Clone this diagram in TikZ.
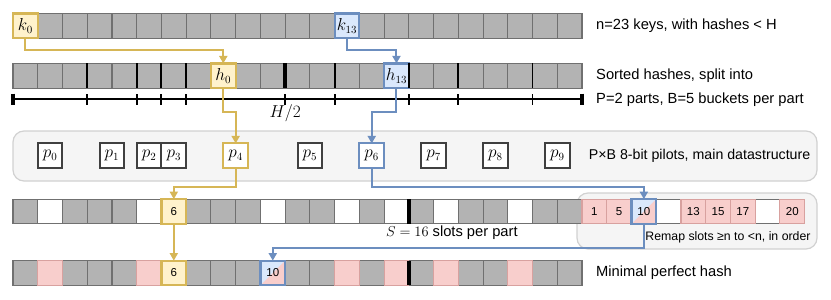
\documentclass[tikz,border=0pt]{standalone}
\usepackage{fontspec}
\setsansfont{Liberation Sans}
\usetikzlibrary{positioning,arrows.meta}

\definecolor{yelline}{HTML}{D6B656}
\definecolor{yelfill}{HTML}{FFF2CC}
\definecolor{bluline}{HTML}{6C8EBF}
\definecolor{blufill}{HTML}{DAE8FC}
\definecolor{redline}{HTML}{B85450}
\definecolor{redfill}{HTML}{F8CECC}
\definecolor{cellgray}{HTML}{B3B3B3}
\definecolor{cellline}{HTML}{707070}

\tikzset{
  cell/.style={draw=cellline, line width=1.1pt, minimum size=24.74pt,
    inner sep=0pt, outer sep=0pt, font=\sffamily\fontsize{11.5}{12}\selectfont},
  gcell/.style={cell, fill=cellgray},
  wcell/.style={cell, fill=white},
  rcell/.style={cell, fill=redfill, draw=redline!55},
  ycell/.style={cell, fill=yelfill, draw=yelline, line width=2.2pt},
  bcell/.style={cell, fill=blufill, draw=bluline, line width=2.2pt},
  scell/.style={bcell, path picture={
      \fill[redfill] (path picture bounding box.north east)
        -- (path picture bounding box.south east)
        -- (path picture bounding box.south west) -- cycle;}},
  mathtext/.style={font=\fontsize{16}{18}\selectfont},
  pilot/.style={draw=black!75, line width=2pt, fill=white,
    minimum size=24.74pt, inner sep=0pt, outer sep=0pt, mathtext},
  panel/.style={draw=black!18, line width=1.2pt, fill=black!4, rounded corners=11pt},
  sep/.style={line width=1.9pt},
  partsep/.style={line width=4.2pt},
  ylink/.style={draw=yelline, line width=2pt, -{Triangle[length=7.5pt,width=8pt]}},
  blink/.style={draw=bluline, line width=2pt, -{Triangle[length=7.5pt,width=8pt]}},
  lbl/.style={font=\sffamily\fontsize{14.7}{17}\selectfont, inner sep=0pt},
}

\begin{document}
\begin{tikzpicture}[x=1pt, y=-1pt]
  \useasboundingbox (0,0) rectangle (831,300);
  \def\cw{24.74}
  \def\yk{25.8} \def\yh{75.8} \def\yp{155.8} \def\ys{211.5} \def\ym{273}

  % Background panels for the pilots and for the remapped slots.
  \draw[panel] (13,131) rectangle (817,181);
  \draw[panel] (577,193) rectangle (817,249);

  % Keys, sorted hashes and the final positions (n=23 each).
  \foreach \i in {0,...,22} {
    \node[gcell] (k\i) at ({13+(\i+0.5)*\cw},\yk) {};
    \node[gcell] (h\i) at ({13+(\i+0.5)*\cw},\yh) {};
    \node[gcell] (m\i) at ({13+(\i+0.5)*\cw},\ym) {};
  }
  % Slots, 2 parts of S=16.
  \foreach \i in {0,...,31}
    \node[gcell] (s\i) at ({13+(\i+0.5)*\cw},\ys) {};

  % Empty slots, and the slots >= n that get remapped.
  \foreach \i in {1,5,10,13,15,17,20,26,30}
    \node[wcell] (s\i) at (s\i) {};
  \foreach \i/\v in {23/1,24/5,27/13,28/15,29/17,31/20}
    \node[rcell] (s\i) at (s\i) {\v};
  \foreach \i in {1,5,13,15,17,20}
    \node[rcell] (m\i) at (m\i) {};

  % Pilots, one per bucket.
  \foreach \j/\c in {0/1.5,1/4,2/5.5,3/6.5,4/9,5/12,6/14.5,7/17,8/19.5,9/22}
    \node[pilot] (p\j) at ({13+\c*\cw},\yp) {$p_{\j}$};
  \node[pilot, draw=yelline] (p4) at (p4) {$p_4$};
  \node[pilot, draw=bluline] (p6) at (p6) {$p_6$};

  % The two followed keys.
  \node[ycell, mathtext] (k0) at (k0) {$k_0$};
  \node[bcell, mathtext] (k13) at (k13) {$k_{13}$};
  \node[ycell, mathtext] (h8) at (h8) {$h_0$};
  \node[bcell, mathtext] (h15) at (h15) {$h_{13}$};
  \node[ycell] (s6) at (s6) {6};
  \node[scell] (s25) at (s25) {10};
  \node[ycell] (m6) at (m6) {6};
  \node[scell] (m10) at (m10) {10};

  % Bucket and part boundaries.
  \foreach \b in {3,5,6,7,13,16,18,21}
    \draw[sep] (h\b.north west) -- (h\b.south west);
  \draw[partsep] (h11.north west) -- (h11.south west);
  \draw[partsep] (s16.north west) -- (s16.south west);
  \draw[partsep] (m16.north west) -- (m16.south west);

  % Hash axis.
  \draw[line width=2.6pt] ([yshift=-11pt]h0.south west) -- ([yshift=-11pt]h22.south east);
  \foreach \b in {3,5,6,7,11,13,16,18,21}
    \draw[line width=1.9pt] ([yshift=-6pt]h\b.south west) -- ([yshift=-16.5pt]h\b.south west);
  \draw[line width=3.2pt] ([yshift=-5.5pt]h0.south west) -- ([yshift=-17pt]h0.south west);
  \draw[line width=3.2pt] ([yshift=-5.5pt]h22.south east) -- ([yshift=-17pt]h22.south east);
  \node[mathtext] (half) at ([yshift=-25pt]h11.south west) {$H/2$};

  % Connectors.
  \draw[ylink] (k0.south) -- ++(0,12) -| (h8.north);
  \draw[blink] (k13.south) -- ++(0,12) -| (h15.north);
  \draw[ylink] (h8.south) -- ++(0,23.4) -| (p4.north);
  \draw[blink] (h15.south) -- ++(0,23.4) -| (p6.north);
  \draw[ylink] (p4.south) -- ++(0,18.5) -| (s6.north);
  \draw[blink] (p6.south) -- ++(0,18.5) -| (s25.north);
  \draw[ylink] (s6.south) -- (m6.north);
  \draw[blink] (s25.south) -- ++(0,24.3) -| (m10.north);

  % Labels.
  \node[lbl, anchor=west] (keys) at ([xshift=14pt]k22.east) {n=23 keys, with hashes < H};
  \node[lbl, anchor=west] (sorted) at ([xshift=14pt]h22.east) {Sorted hashes, split into};
  \node[lbl, anchor=west] (parts) at ([xshift=14pt, yshift=-24pt]h22.east) {P=2 parts, B=5 buckets per part};
  \node[lbl, font=\sffamily\fontsize{14.2}{17}\selectfont, anchor=west] (pilots)
    at ([xshift=19pt]p9.east) {P×B 8-bit pilots, main datastructure};
  \node[lbl, anchor=west] (slots) at ([xshift=-23pt, yshift=-9pt]s16.south west) {$S=16$ slots per part};
  \node[lbl, font=\sffamily\fontsize{12.3}{14}\selectfont, anchor=east] (remap)
    at ([xshift=6pt, yshift=-13pt]s31.south east) {Remap slots ≥n to <n, in order};
  \node[lbl, anchor=west] (mph) at ([xshift=14pt]m22.east) {Minimal perfect hash};
\end{tikzpicture}
\end{document}
